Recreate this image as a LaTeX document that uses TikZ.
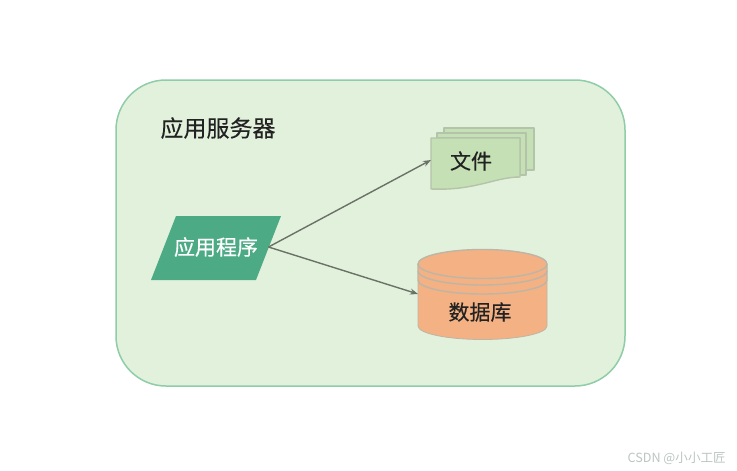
\documentclass[tikz,border=0pt]{standalone}
\usepackage{fontspec}
\setmainfont{Liberation Sans}
\newfontfamily\cjk[FakeBold=0.25]{Noto Sans CJK SC}
\newfontfamily\cjkplain{Noto Sans CJK SC}
\usetikzlibrary{arrows.meta}
\definecolor{panelfill}{HTML}{E2F1DC}
\definecolor{panelline}{HTML}{8FCDA8}
\definecolor{appfill}{HTML}{4CAB85}
\definecolor{filefill}{HTML}{C5E0B4}
\definecolor{fileline}{HTML}{B4C4AA}
\definecolor{dbfill}{HTML}{F4B183}
\definecolor{dbline}{HTML}{BDB5A6}
\definecolor{arrowgray}{HTML}{6A7265}
\definecolor{inktext}{HTML}{222222}
\definecolor{marktext}{HTML}{BCC6C1}
\tikzset{
  panel/.style={draw=panelline,line width=1.5pt,fill=panelfill,rounded corners=50pt},
  sheet/.style={draw=fileline,line width=1.4pt,fill=filefill,line join=round},
  drum/.style={draw=dbline,line width=1.4pt},
  label/.style={inner sep=0pt,text=inktext,font=\cjk\fontsize{21}{21}\selectfont},
  link/.style={draw=arrowgray,line width=1.4pt,-{Stealth[length=8pt,width=6pt]}},
}
\begin{document}
\begin{tikzpicture}[x=1pt,y=-1pt]
\useasboundingbox (0,0) rectangle (737,471);
\fill[white] (0,0) rectangle (737,471);
\draw[panel] (116,80) rectangle (625,386);
\node[inner sep=0pt,text=inktext,font=\cjk\fontsize{23}{23}\selectfont] (title) at (218,128) {应用服务器};
% application
\fill[appfill] (176,216) -- (281,216) -- (256,280) -- (151,280) -- cycle;
\node[minimum width=105pt,minimum height=64pt,inner sep=0pt,outer sep=0pt,
      text=white,font=\cjk\fontsize{21}{21}\selectfont] (app) at (216,247) {应用程序};
% file stack
\path[sheet] (444,128) -- (534,128) -- (534,170) -- (526,170) -- (526,133) -- (444,133) -- cycle;
\path[sheet] (437,133) -- (526,133) -- (526,175) -- (520,175) -- (520,138) -- (437,138) -- cycle;
\path[sheet] (431,138) -- (520,138) -- (520,177)
   .. controls (495,177) and (475,191) .. (431,189) -- cycle;
\node[minimum width=89pt,minimum height=44pt,inner sep=0pt,outer sep=0pt] (files) at (475.5,160) {};
\node[label] (fileslabel) at (471,161) {文件};
% database
\path[fill=dbfill] (418,264) -- (418,326) arc[start angle=180,end angle=0,x radius=64.5,y radius=13.5]
   -- (547,264) arc[start angle=0,end angle=-180,x radius=64.5,y radius=14.5] -- cycle;
\draw[drum,line width=.8pt] (418,280) -- (418,326) arc[start angle=180,end angle=0,x radius=64.5,y radius=13.5] -- (547,280);
\draw[drum] (418,264) -- (418,280) arc[start angle=180,end angle=0,x radius=64.5,y radius=14] -- (547,264);
\draw[drum] (418,271) arc[start angle=180,end angle=0,x radius=64.5,y radius=14];
\draw[drum] (482.5,264) ellipse[x radius=64.5,y radius=14.5];
\node[minimum width=129pt,minimum height=90pt,inner sep=0pt,outer sep=0pt] (db) at (482.5,294) {};
\node[label] (dblabel) at (480,312) {数据库};
% connectors
\draw[link] (app.east) -- (files.west);
\draw[link] (app.east) -- (db.west);
% watermark
\node[anchor=east,inner sep=0pt,text=marktext,font=\cjkplain\fontsize{12.6}{12.6}\selectfont] (mark) at (726,458) {CSDN @小小工匠};
\end{tikzpicture}
\end{document}
